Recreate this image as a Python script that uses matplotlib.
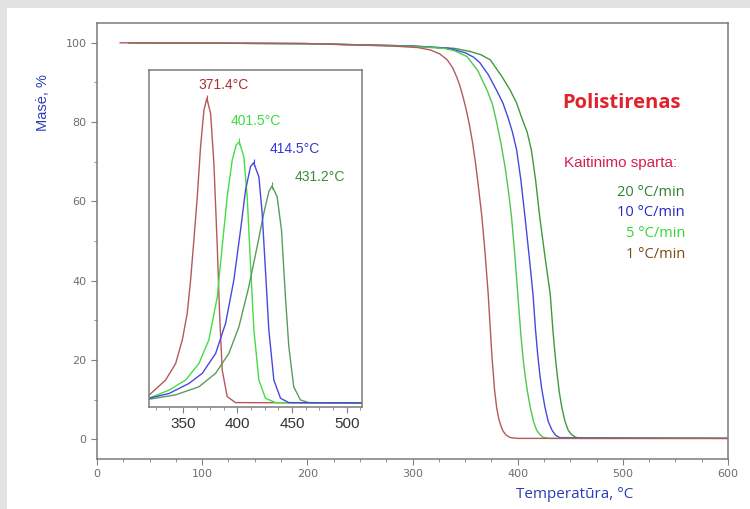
import matplotlib
matplotlib.use("Agg")
import matplotlib.pyplot as plt
from matplotlib.ticker import MultipleLocator
from matplotlib.patches import Rectangle

# --- main TGA curves (temperature, mass %) ---
t_1 = [22, 200, 280, 305, 317, 326, 333, 338, 342, 345, 348, 351, 354, 357, 360, 363, 366, 369, 372, 375.6, 378, 380, 382, 384, 386, 389, 393, 400, 600]
m_1 = [100, 99.8, 99.2, 98.8, 98.2, 97.2, 95.7, 93.8, 91.4, 89.2, 86.4, 83.2, 79.5, 75, 69.5, 63, 56, 47, 36.5, 20.7, 12.5, 8, 5.2, 3.4, 2.1, 1, 0.4, 0.2, 0.2]

t_5 = [30, 200, 300, 330, 340, 352, 362, 371, 376, 380, 384, 388, 391, 394, 397, 400, 403, 405, 407, 409, 412, 415, 418, 421, 424, 430, 600]
m_5 = [100, 99.8, 99.1, 98.6, 98, 96.5, 93, 88, 84.5, 80, 74.8, 68.7, 63, 56.5, 47.5, 37, 26.5, 20.7, 16.2, 12.5, 8, 4.5, 2.3, 1.2, 0.5, 0.2, 0.2]

t_10 = [30, 200, 300, 335, 350, 358, 364, 372, 380, 386, 391, 395, 399, 403, 407, 411, 414.6, 417, 419, 421, 423, 426, 429, 432.6, 436, 440, 600]
m_10 = [100, 99.8, 99.2, 98.6, 97.5, 96.4, 95, 92, 88, 84.8, 81, 77.5, 73, 65.5, 56, 46, 36.5, 27.5, 21.5, 16.5, 12.5, 8, 4.5, 2.3, 1, 0.4, 0.2]

t_20 = [35, 200, 300, 340, 355, 365, 374, 385, 393, 399, 404, 409, 413, 417, 421, 426, 431, 433.5, 435.5, 437.5, 439.5, 442, 445, 448, 451, 455, 460, 600]
m_20 = [100, 99.8, 99.2, 98.6, 97.8, 97, 95.7, 91.5, 88, 84.8, 81, 77.5, 73, 65.5, 56, 46, 36.5, 27.5, 21.5, 16.5, 12, 8, 4.5, 2.3, 1.2, 0.5, 0.2, 0.2]

# --- inset DTG curves (temperature, relative rate) ---
dt_1 = [315, 319, 334.2, 343.4, 349.5, 354, 357.1, 360.1, 363.2, 366.2, 369.3, 372, 375.4, 378.4, 381.5, 383.6, 386, 390.6, 398.2, 520]
dv_1 = [3.2, 3.5, 8.0, 12.9, 19.9, 27.8, 37.7, 49.6, 62.4, 77.2, 88.1, 91.6, 87.1, 72.3, 47.6, 27.8, 11, 3.1, 1.3, 1.2]

dt_5 = [315, 319, 337.3, 352.5, 364.7, 373.8, 381.5, 386, 390.6, 395.2, 398.8, 401.6, 405.8, 408.9, 411.9, 415, 419.6, 425.6, 434.8, 520]
dv_5 = [2.5, 2.6, 5.0, 8.0, 12.9, 19.9, 32.7, 47.6, 62.4, 73.3, 77.7, 78.7, 74.3, 62.4, 42.6, 22.9, 8.0, 2.6, 1.3, 1.2]

dt_10 = [315, 319, 337.3, 355.6, 367.8, 380, 389.1, 396.7, 402.8, 407.4, 411.9, 414.8, 419.6, 422.6, 425.6, 428.7, 433.3, 439.4, 447, 520]
dv_10 = [2.5, 2.6, 4.0, 7.0, 10, 15.9, 24.8, 37.7, 52.5, 64.4, 71.3, 72.5, 68.3, 57.5, 40.7, 22.9, 8.0, 2.6, 1.3, 1.2]

dt_20 = [315, 319, 343.4, 364.7, 380, 392.1, 401.3, 410.4, 418, 424.1, 428.7, 431.6, 436.3, 440.3, 443.9, 447, 451.5, 457.6, 465.3, 520]
dv_20 = [2.2, 2.3, 3.6, 6.0, 10, 15.9, 23.8, 35.7, 47.6, 57.5, 63.9, 65.6, 62.4, 52.5, 32.7, 17.9, 6.0, 2.1, 1.3, 1.2]

peak_t = [372.0, 401.6, 414.8, 431.6]
peak_v = [91.6, 78.7, 72.5, 65.6]
peak_labels = ["371.4°C", "401.5°C", "414.5°C", "431.2°C"]

rate_labels = ["20 °C/min", "10 °C/min", "5 °C/min", "1 °C/min"]

W, H = 750, 509

c_red = "#b35a5a"
c_lgreen = "#4fc84f"
c_blue = "#4848e0"
c_dgreen = "#3f9a3f"


def fx(px):
    return px / W


def fy(py):
    return 1 - py / H


fig = plt.figure(figsize=(7.5, 5.09), dpi=100)
fig.patch.set_facecolor("white")
fig.patches.append(Rectangle((0, fy(8)), 1, 8 / H, transform=fig.transFigure,
                             facecolor="#e2e2e2", edgecolor="none", zorder=-1))
fig.patches.append(Rectangle((0, 0), 7 / W, 1, transform=fig.transFigure,
                             facecolor="#e2e2e2", edgecolor="none", zorder=-1))

ax = fig.add_axes([97 / W, 50 / H, 631 / W, 436 / H])
ax.plot(t_20, m_20, color=c_dgreen, lw=1.0)
ax.plot(t_10, m_10, color=c_blue, lw=1.0)
ax.plot(t_5, m_5, color=c_lgreen, lw=1.0)
ax.plot(t_1, m_1, color=c_red, lw=1.0)
ax.set_xlim(0, 600)
ax.set_ylim(-5, 105)
ax.xaxis.set_major_locator(MultipleLocator(100))
ax.xaxis.set_minor_locator(MultipleLocator(25))
ax.yaxis.set_major_locator(MultipleLocator(20))
ax.yaxis.set_minor_locator(MultipleLocator(10))
ax.tick_params(which="both", direction="out", colors="#808080", labelcolor="#6e6e6e", labelsize=8)
ax.tick_params(which="major", length=4)
ax.tick_params(which="minor", length=2.5)
for s in ax.spines.values():
    s.set_color("#7a7a7a")
    s.set_linewidth(1.1)

fig.text(fx(43), fy(103), "Masė, %", rotation=90, color="#2b3db5",
         fontsize=10.5, family="Liberation Sans", ha="center", va="center")
fig.text(fx(575), fy(495), "Temperatūra, °C", color="#2b3db5",
         fontsize=11, family="Open Sans", ha="center", va="center")

fig.text(fx(621), fy(103), "Polistirenas", color="#e0222c", fontsize=14.5,
         fontweight="bold", family="Open Sans", ha="center", va="center")
fig.text(fx(621), fy(163), "Kaitinimo sparta:", color="#d42050", fontsize=11,
         family="Liberation Sans", ha="center", va="center")
rate_colors = ["#2f7f2f", "#2626c4", "#36d636", "#7a4a12"]
for i, (lab, col) in enumerate(zip(rate_labels, rate_colors)):
    fig.text(fx(685), fy(192 + i * 20.7), lab, color=col, fontsize=10.5,
             family="Open Sans", ha="right", va="center")

# inset
ins = fig.add_axes([149 / W, 102 / H, 213 / W, 337 / H])
ins.plot(dt_1, dv_1, color=c_red, lw=1.0)
ins.plot(dt_5, dv_5, color="#44dd44", lw=1.0)
ins.plot(dt_20, dv_20, color="#5a9d5a", lw=1.0)
ins.plot(dt_10, dv_10, color=c_blue, lw=1.0)
inset_colors = [c_red, "#44dd44", c_blue, "#5a9d5a"]
ins.scatter(peak_t, peak_v, marker="|", s=25, c=inset_colors, linewidths=0.8, zorder=3)
label_colors = ["#a83232", "#3ede3e", "#3535d8", "#3c8c3c"]
label_pos = [(224, 85), (256, 121), (295, 149), (320, 177)]
for lab, col, (px, py) in zip(peak_labels, label_colors, label_pos):
    fig.text(fx(px), fy(py), lab, color=col, fontsize=10,
             family="Liberation Sans", ha="center", va="center")
ins.set_xlim(319, 514)
ins.set_ylim(0, 100)
ins.xaxis.set_major_locator(MultipleLocator(50))
ins.xaxis.set_minor_locator(MultipleLocator(12.5))
ins.set_yticks([])
ins.tick_params(axis="x", which="both", direction="out", colors="#808080",
                labelcolor="#333333", labelsize=11)
ins.tick_params(axis="x", which="major", length=4)
ins.tick_params(axis="x", which="minor", length=2.5)
for lbl in ins.get_xticklabels():
    lbl.set_family("Liberation Sans")
for s in ins.spines.values():
    s.set_color("#7a7a7a")
    s.set_linewidth(1.1)

fig.savefig("out.png", dpi=100)
plt.close()
